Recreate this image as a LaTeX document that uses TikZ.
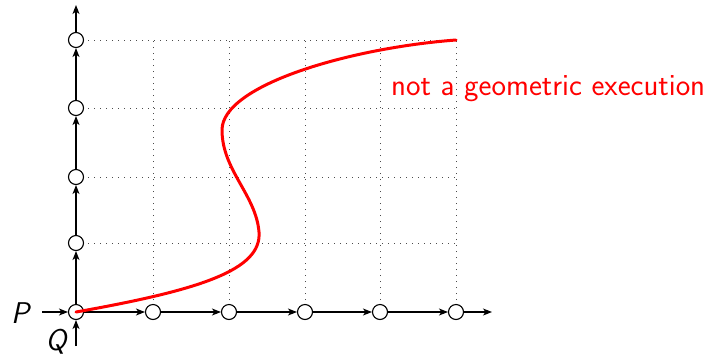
\documentclass[tikz,border=0pt]{standalone}
\usepackage{fontspec}
\usetikzlibrary{arrows.meta}
\begin{document}
\begin{tikzpicture}[x=1pt,y=-1pt,
  pt/.style={circle,draw,line width=1.1pt,minimum size=15pt,inner sep=0pt,fill=white},
  arr/.style={line width=1.1pt,-{Stealth[length=9pt,width=7pt,inset=2.5pt]}},
  griddot/.style={line width=1pt,dash pattern=on 1pt off 5pt,black!70},
  lbl/.style={font=\fontsize{30.8}{36}\selectfont\sffamily}]
\useasboundingbox (0,0) rectangle (709,357);
% grid
\foreach \x in {153,229,305,380,456} \draw[griddot] (\x,312) -- (\x,40);
\foreach \y in {243,177,108,40} \draw[griddot] (76,\y) -- (456,\y);
% nodes
\node[pt] (h0) at (76,312) {};
\node[pt] (h1) at (153,312) {};
\node[pt] (h2) at (229,312) {};
\node[pt] (h3) at (305,312) {};
\node[pt] (h4) at (380,312) {};
\node[pt] (h5) at (456,312) {};
\node[pt] (v1) at (76,243) {};
\node[pt] (v2) at (76,177) {};
\node[pt] (v3) at (76,108) {};
\node[pt] (v4) at (76,40) {};
\coordinate (pin) at (42,312);
\coordinate (qin) at (76,346);
\coordinate (hout) at (492,312);
\coordinate (vout) at (76,5);
\node[font=\fontsize{30}{36}\selectfont\sffamily\itshape] (P) at (20,313) {P};
\node[font=\fontsize{30}{36}\selectfont\sffamily\itshape] (Q) at (56,342) {Q};
% arrows
\draw[arr] (pin) -- (h0);
\draw[arr] (qin) -- (h0);
\draw[arr] (h0) -- (h1);
\draw[arr] (h1) -- (h2);
\draw[arr] (h2) -- (h3);
\draw[arr] (h3) -- (h4);
\draw[arr] (h4) -- (h5);
\draw[arr] (h5) -- (hout);
\draw[arr] (h0) -- (v1);
\draw[arr] (v1) -- (v2);
\draw[arr] (v2) -- (v3);
\draw[arr] (v3) -- (v4);
\draw[arr] (v4) -- (vout);
% curve
\coordinate (cend) at (456,40);
\draw[red,line width=3pt,line cap=round]
  (h0.center) .. controls (200,290) and (262,270) .. (259,232)
  .. controls (256,195) and (222,170) .. (222,130)
  .. controls (222,85) and (350,48) .. (cend);
\node[lbl,red,anchor=base west,inner sep=0pt] (t) at (391,95) {not a geometric execution};
\end{tikzpicture}
\end{document}
